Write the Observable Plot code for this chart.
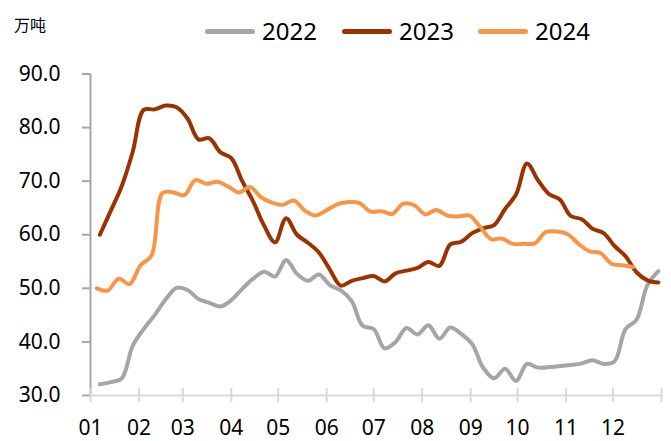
<!DOCTYPE html>
<html><head><meta charset="utf-8">
<script src="https://cdn.jsdelivr.net/npm/d3@7"></script>
<script src="https://cdn.jsdelivr.net/npm/@observablehq/plot@0.6"></script>
<style>
body{margin:0;background:#fff;font-family:"Noto Sans",sans-serif;}
#wrap{width:671px;height:441px;position:relative;overflow:hidden;background:#fff}
#head{position:relative;height:50px}
.unit{position:absolute;left:14px;top:14px;font-size:16px;line-height:20px;font-family:"Noto Sans CJK SC",sans-serif;color:#000}
.sw{position:absolute;top:29px;width:50px;height:5px;border-radius:3px}
.lt{position:absolute;top:14px;font-size:24px;line-height:34px;color:#000}
</style></head><body>
<div id="wrap"><div id="head"></div><div id="chart"></div></div>
<script>
const unitLabel = "万吨";
const years = ["2022", "2023", "2024"];
const colors = ["#a5a5a5", "#993300", "#f79646"];
const firstDay = [6, 6, 4]; // day-of-year offset of first weekly observation
const monthLabels = ["01","02","03","04","05","06","07","08","09","10","11","12"];
const yTicks = [30, 40, 50, 60, 70, 80, 90];

const v2022 = [32.1,32.5,33.2,39.3,42.4,45.0,47.9,50.1,49.7,48.0,
  47.3,46.6,47.8,49.9,51.8,53.1,52.2,55.3,52.7,51.4,
  52.6,50.6,49.6,47.6,43.0,42.4,38.8,40.0,42.6,41.4,
  43.1,40.6,42.7,41.5,39.6,35.2,33.2,35.0,32.7,35.9,
  35.2,35.3,35.5,35.7,36.0,36.6,35.9,36.4,42.4,44.1,
  50.6,53.2];
const v2023 = [60.0,64.5,69.1,75.5,83.3,83.4,84.1,83.8,81.7,77.8,
  78.0,75.4,74.3,70.0,66.2,61.7,58.6,63.1,60.0,58.5,
  56.7,53.5,50.5,51.4,51.9,52.3,51.3,52.8,53.3,53.8,
  54.9,54.2,58.2,58.7,60.3,61.2,61.8,64.8,67.5,73.3,
  70.2,67.6,66.6,63.5,62.9,61.1,60.3,57.9,56.0,53.0,
  51.5,51.1];
const v2024 = [50.0,49.6,51.8,50.8,54.3,56.1,67.8,67.9,67.4,70.2,
  69.5,69.9,69.0,67.9,68.9,67.0,66.0,65.6,66.4,64.5,
  63.6,64.6,65.7,66.1,65.9,64.3,64.4,63.9,65.8,65.5,
  63.8,64.6,63.6,63.4,63.6,61.5,59.2,59.3,58.3,58.3,
  58.4,60.5,60.6,60.1,58.3,56.9,56.6,54.6,54.3,54.0];

const series = [v2022, v2023, v2024];
const baseYear = 2023;
const day = d => new Date(Date.UTC(baseYear, 0, 1 + d));
const data = [];
series.forEach((vals, s) => vals.forEach((v, i) => data.push({series: years[s], date: day(firstDay[s] + 7 * i), value: v})));

const x0 = day(0), x1 = new Date(Date.UTC(baseYear + 1, 0, 1));
const months = d3.utcMonths(x0, new Date(Date.UTC(baseYear + 1, 0, 2)));
const monthFmt = d => d.getUTCFullYear() === baseYear ? monthLabels[d.getUTCMonth()] : "";

// header: unit + legend
const head = document.getElementById("head");
head.innerHTML = `<div class="unit">${unitLabel}</div>`;
const swLeft = [205, 342, 478];
years.forEach((y, i) => {
  head.insertAdjacentHTML("beforeend",
    `<div class="sw" style="left:${swLeft[i]}px;background:${colors[i]}"></div><div class="lt" style="left:${swLeft[i] + 57}px">${y}</div>`);
});

const chart = Plot.plot({
  width: 671, height: 391,
  marginLeft: 90, marginRight: 10, marginTop: 23.5, marginBottom: 46,
  style: {fontFamily: '"Noto Sans", sans-serif', fontSize: "21px", color: "#000", background: "#fff", overflow: "visible"},
  x: {type: "utc", domain: [x0, x1]},
  y: {domain: [30, 90]},
  color: {domain: years, range: colors},
  marks: [
    Plot.ruleX([x0], {stroke: "#a6a6a6", strokeWidth: 2}),
    Plot.axisY({ticks: yTicks, tickSize: 8, tickPadding: 22, tickFormat: d => d.toFixed(1), stroke: "#a6a6a6", strokeWidth: 2, fill: "#000", label: null}),
    Plot.ruleY([30], {stroke: "#d9d9d9", strokeWidth: 2}),
    Plot.axisX({ticks: months, tickSize: 7, tickPadding: 18, tickFormat: monthFmt, stroke: "#d9d9d9", strokeWidth: 2, fill: "#000", label: null}),
    Plot.axisX({ticks: months, tickSize: 7, dy: -7, tickFormat: () => "", stroke: "#d9d9d9", strokeWidth: 2, label: null}),
    Plot.line(data, {x: "date", y: "value", z: "series", stroke: "series", strokeWidth: 4, curve: "catmull-rom", strokeLinecap: "round", strokeLinejoin: "round"})
  ]
});
document.getElementById("chart").appendChild(chart);
</script>
</body></html>
